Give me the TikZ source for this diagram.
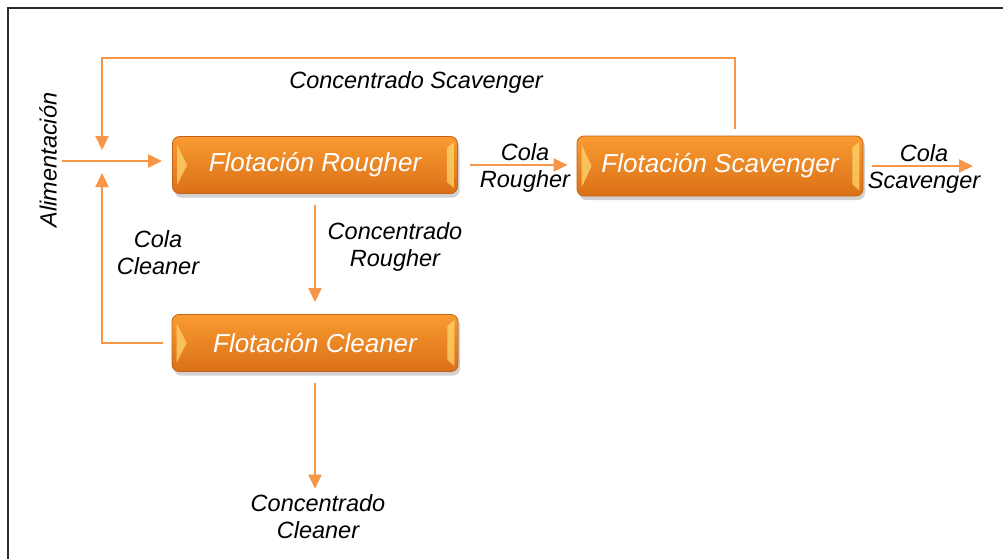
\documentclass[tikz,border=0pt]{standalone}
\usepackage{fontspec}
\setmainfont{Liberation Sans}
\usetikzlibrary{arrows.meta,shadows,calc}
\definecolor{flow}{HTML}{F79646}
\definecolor{boxtop}{HTML}{F99B32}
\definecolor{boxbot}{HTML}{DA7016}
\definecolor{boxedge}{HTML}{C4621A}
\definecolor{bevelc}{HTML}{FFD66E}
\definecolor{framec}{HTML}{2B2B2B}
\tikzset{
  unitbox/.style={rounded corners=7pt, top color=boxtop, bottom color=boxbot,
    draw=boxedge, line width=0.8pt, minimum height=57pt, minimum width=285pt,
    text=white, font=\fontsize{26}{29}\selectfont\itshape,
    drop shadow={shadow xshift=2pt, shadow yshift=-4pt, opacity=0.35}},
  flowline/.style={draw=flow, line width=2pt, -{Triangle[length=14pt,width=13pt]}},
  lbl/.style={font=\fontsize{23.5}{27}\selectfont\itshape, align=center, text=black, inner sep=0pt},
}
\newcommand\bevelize[1]{%
  \fill[bevelc, opacity=0.75] ([xshift=5pt,yshift=-9pt]#1.north west) -- ([xshift=15pt]#1.west)
     -- ([xshift=5pt,yshift=9pt]#1.south west) -- cycle;
  \fill[bevelc, opacity=0.75] ([xshift=-4pt,yshift=-6pt]#1.north east) -- ([xshift=-11pt,yshift=-12pt]#1.north east)
     -- ([xshift=-11pt,yshift=12pt]#1.south east) -- ([xshift=-4pt,yshift=6pt]#1.south east) -- cycle;
  \node[text=white, font=\fontsize{26}{29}\selectfont\itshape] at (#1.center) {\csname boxtext#1\endcsname};
}
\begin{document}
\begin{tikzpicture}[x=1pt,y=-1pt]
\useasboundingbox (0,0) rectangle (1003,559);
\fill[white] (0,0) rectangle (1003,559);
\draw[framec, line width=2.6pt] (8,559) -- (8,8) -- (1003,8);

\node[unitbox] (rough) at (315,165) {\phantom{Flotación Rougher}};
\node[unitbox, minimum width=286pt, minimum height=60pt] (scav) at (720,166) {\phantom{Flotación Scavenger}};
\node[unitbox, minimum width=286pt] (clean) at (315,343) {\phantom{Flotación Cleaner}};
\expandafter\def\csname boxtextrough\endcsname{Flotación Rougher}
\expandafter\def\csname boxtextscav\endcsname{Flotación Scavenger}
\expandafter\def\csname boxtextclean\endcsname{Flotación Cleaner}
\bevelize{rough}
\bevelize{scav}
\bevelize{clean}

\coordinate (feed) at (62,161);
\coordinate (jtop) at (102,150);
\coordinate (jbot) at (102,173);
\coordinate (loop) at (102,58);
\coordinate (out) at (973,166);

\node[lbl, rotate=90] (alim) at (48,160) {Alimentación};
\node[lbl] (lcs) at (416,82) {Concentrado Scavenger};
\node[lbl] (lcr) at (525,168) {Cola\\Rougher};
\node[lbl] (lcsc) at (924,169) {Cola\\Scavenger};
\node[lbl] (lcc) at (158,253) {Cola\\Cleaner};
\node[lbl] (lconr) at (395,247) {Concentrado\\Rougher};
\node[lbl] (lconc) at (318,517) {Concentrado\\Cleaner};

\draw[flowline, shorten >=10pt] (feed) -- (feed -| rough.west);
\draw[flowline, shorten <=7pt] ([xshift=15pt]scav.north) |- (loop) -- (jtop);
\draw[flowline, shorten <=9pt] (clean.west) -| (jbot);
\draw[flowline, shorten <=11pt, shorten >=12pt] (rough.south) -- (clean.north);
\draw[flowline, shorten <=11pt, shorten >=6pt] (clean.south) -- (clean.south |- lconc.north);
\draw[flowline, shorten <=12pt, shorten >=9pt] (rough.east) -- (rough.east -| scav.west);
\draw[flowline, shorten <=9pt] (scav.east) -- (out);
\end{tikzpicture}
\end{document}
